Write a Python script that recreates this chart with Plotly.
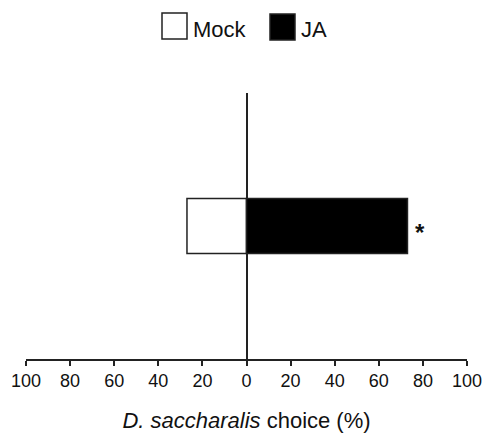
import plotly.graph_objects as go

categories = ["Mock", "JA"]
values = [27, 73]          # % choice
tick_vals = [-100, -80, -60, -40, -20, 0, 20, 40, 60, 80, 100]
tick_text = ["100", "80", "60", "40", "20", "0", "20", "40", "60", "80", "100"]
fill_colors = ["white", "black"]
significance = "*"

FONT = "Liberation Sans, Arial, sans-serif"

W, H = 484, 433
ml, mr, mt, mb = 26, 17, 93, 74
pw, ph = W - ml - mr, H - mt - mb


def px(x):  # page x -> paper
    return (x - ml) / pw


def py(y):  # page y -> paper
    return (H - mb - y) / ph


fig = go.Figure()
signs = [-1, 1]
for cat, v, s, c in zip(categories, values, signs, fill_colors):
    fig.add_trace(go.Bar(
        x=[s * v], y=[0.5], orientation="h", name=cat, width=0.207,
        marker=dict(color=c, line=dict(color="#222", width=1.5)),
        showlegend=False, hoverinfo="skip",
    ))

fig.add_annotation(x=values[1], y=0.5, text="<b>" + significance + "</b>", showarrow=False,
                   xanchor="left", xshift=6, yshift=-6,
                   font=dict(size=24, color="#111", family=FONT))

# legend drawn manually (page pixel positions)
leg = [(162, 187, 13, 39, 191), (270, 295, 14, 40, 299)]
for (x0, x1, y0, y1, tx), cat, c in zip(leg, categories, fill_colors):
    fig.add_shape(type="rect", xref="paper", yref="paper",
                  x0=px(x0), x1=px(x1), y0=py(y1), y1=py(y0),
                  fillcolor=c, line=dict(color="#222", width=1.5))
    fig.add_annotation(xref="paper", yref="paper", x=px(tx), y=py(29),
                       text=cat, showarrow=False, xanchor="left", yanchor="middle",
                       font=dict(size=22, color="#111", family=FONT))

fig.update_layout(
    width=W, height=H, margin=dict(l=ml, r=mr, t=mt, b=mb, autoexpand=False),
    plot_bgcolor="white", paper_bgcolor="white", barmode="overlay",
    font=dict(family=FONT, color="#111"),
    xaxis=dict(range=[-100, 100], tickvals=tick_vals, ticktext=tick_text,
               automargin=False,
               showline=True, linecolor="#222", linewidth=1.5,
               ticks="outside", ticklen=5, tickwidth=1.5, tickcolor="#222",
               tickfont=dict(size=18), showgrid=False,
               zeroline=True, zerolinecolor="#222", zerolinewidth=1.5,
               title=dict(text="<i>D. saccharalis</i> choice (%)",
                          font=dict(size=22), standoff=22)),
    yaxis=dict(range=[0, 1], visible=False, showgrid=False, zeroline=False),
)

fig.write_html("out.html", config={"displayModeBar": False},
               post_script="document.body.style.margin='0';document.body.style.overflow='hidden';")
